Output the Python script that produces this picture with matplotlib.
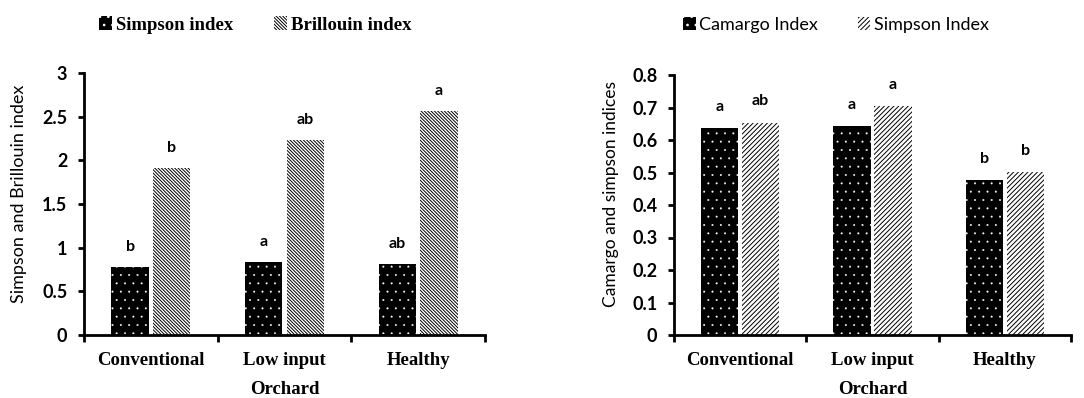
import matplotlib
matplotlib.use("Agg")
import matplotlib.pyplot as plt
from matplotlib.patches import Patch
import numpy as np

plt.rcParams['hatch.linewidth'] = 0.7

categories = ["Conventional", "Low input", "Healthy"]

# Left panel
left_simpson = [0.78, 0.84, 0.81]
left_brillouin = [1.91, 2.23, 2.56]
left_simpson_letters = ["b", "a", "ab"]
left_brillouin_letters = ["b", "ab", "a"]
left_yticks = [0, 0.5, 1, 1.5, 2, 2.5, 3]
left_yticklabels = ["0", "0.5", "1", "1.5", "2", "2.5", "3"]

# Right panel
right_camargo = [0.637, 0.643, 0.477]
right_simpson = [0.653, 0.705, 0.502]
right_camargo_letters = ["a", "a", "b"]
right_simpson_letters = ["ab", "a", "b"]
right_yticks = [0, 0.1, 0.2, 0.3, 0.4, 0.5, 0.6, 0.7, 0.8]
right_yticklabels = ["0", "0.1", "0.2", "0.3", "0.4", "0.5", "0.6", "0.7", "0.8"]

SERIF = "Liberation Serif"
SANS = "Lato"

fig = plt.figure(figsize=(10.84, 3.98), dpi=100)
axL = fig.add_axes([84/1084, 1-335/398, 401/1084, 262/398])
axR = fig.add_axes([674/1084, 1-335/398, 397/1084, 260/398])

bw = 0.28
gap = 0.03
x = np.arange(len(categories)) + 0.5

DOTS = ".."
BACK = "\\" * 10
FWD = "/" * 7


def thin_dots(patches):
    for p in patches:
        if hasattr(p, "set_hatch_linewidth"):
            p.set_hatch_linewidth(0.2)


def panel(ax, s1, s2, l1, l2, h2, ymax, yticks, ylabels, ylabel, off1, off2,
          ylab_x, ylab_size):
    b1 = ax.bar(x - bw/2 - gap/2, s1, bw, color="black", edgecolor="white",
                hatch=DOTS, linewidth=0)
    thin_dots(b1)
    ax.bar(x + bw/2 + gap/2, s2, bw, color="white", edgecolor="black",
           hatch=h2, linewidth=0)
    for xi, v, t in zip(x - bw/2 - gap/2, s1, l1):
        ax.text(xi, v + off1, t, ha="center", va="bottom", fontsize=11.5,
                fontweight="bold", family=SANS)
    for xi, v, t in zip(x + bw/2 + gap/2, s2, l2):
        ax.text(xi, v + off2, t, ha="center", va="bottom", fontsize=11.5,
                fontweight="bold", family=SANS)
    ax.set_xlim(0, 3)
    ax.set_ylim(0, ymax)
    ax.set_yticks(yticks)
    ax.set_yticklabels(ylabels, fontsize=13, fontweight="bold", family=SANS)
    ax.set_xticks([0, 1, 2, 3])
    ax.set_xticklabels([])
    ax.set_xticks(x, minor=True)
    ax.set_xticklabels(categories, minor=True, fontsize=13.5, fontweight="bold",
                       family=SERIF)
    ax.tick_params(axis="x", which="minor", length=0, pad=12)
    ax.tick_params(axis="x", which="major", length=5, width=2, direction="out")
    ax.tick_params(axis="y", length=4, width=2, direction="out", pad=8)
    for sp in ["top", "right"]:
        ax.spines[sp].set_visible(False)
    for sp in ["left", "bottom"]:
        ax.spines[sp].set_linewidth(2)
    ax.set_ylabel(ylabel, fontsize=ylab_size, family=SANS)
    ax.yaxis.set_label_coords(ylab_x, 1-194/398, transform=fig.transFigure)
    pos = ax.get_position()
    fig.text(pos.x0 + pos.width/2, 1-389/398, "Orchard", ha="center",
             va="center", fontsize=13.5, fontweight="bold", family=SERIF)


panel(axL, left_simpson, left_brillouin, left_simpson_letters,
      left_brillouin_letters, BACK, 3, left_yticks, left_yticklabels,
      "Simpson and Brillouin index", 0.15, 0.15, 27/1084, 13)
panel(axR, right_camargo, right_simpson, right_camargo_letters,
      right_simpson_letters, FWD, 0.8, right_yticks, right_yticklabels,
      "Camargo and simpson indices", 0.044, 0.044, 619/1084, 12.5)

dl = Patch(facecolor="black", edgecolor="white", hatch=DOTS, linewidth=0)
dr = Patch(facecolor="black", edgecolor="white", hatch=DOTS, linewidth=0)
fig.legend(handles=[dl, Patch(facecolor="white", edgecolor="black", hatch=BACK, linewidth=0)],
           labels=["Simpson index", "Brillouin index"], ncol=2, frameon=False,
           loc="center", bbox_to_anchor=(255/1084, 1-25/398),
           handlelength=0.7, handleheight=0.7, handletextpad=0.2, columnspacing=2.2,
           prop={"family": SERIF, "weight": "bold", "size": 13.5})
fig.legend(handles=[dr, Patch(facecolor="white", edgecolor="black", hatch=FWD, linewidth=0)],
           labels=["Camargo Index", "Simpson Index"], ncol=2, frameon=False,
           loc="center", bbox_to_anchor=(836/1084, 1-25/398),
           handlelength=0.7, handleheight=0.7, handletextpad=0.2, columnspacing=2.2,
           prop={"family": SANS, "size": 13})

fig.savefig("out.png", dpi=100)
